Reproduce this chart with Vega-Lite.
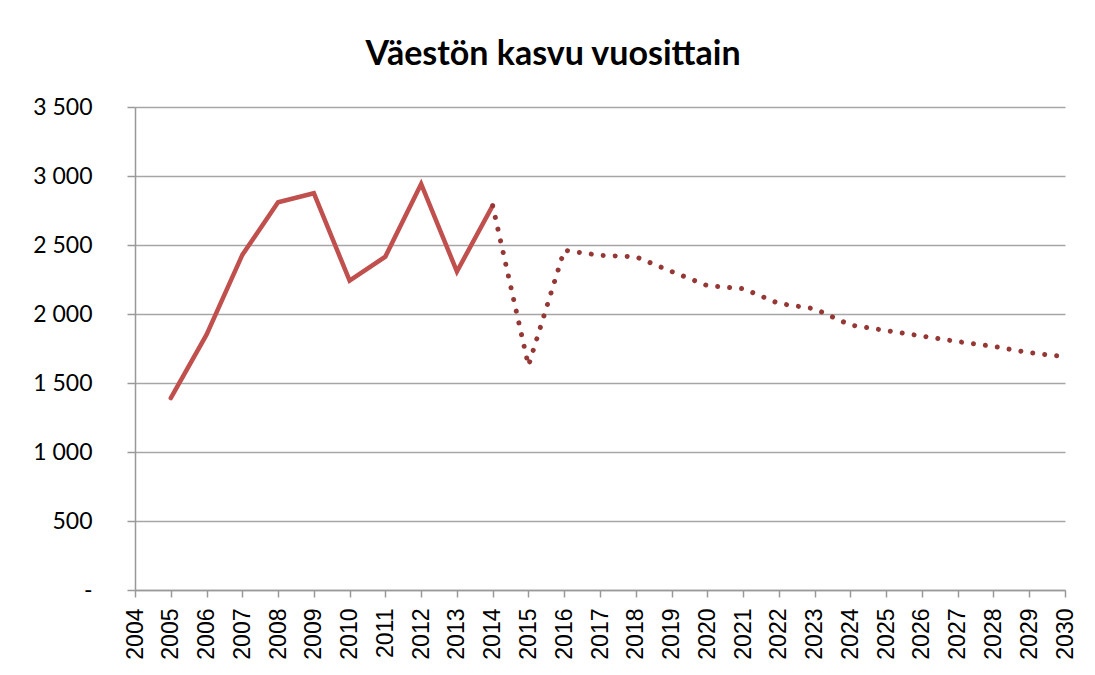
{
  "$schema": "https://vega.github.io/schema/vega-lite/v6.json",
  "autosize": {"type": "none"},
  "padding": {"left": 135, "top": 107, "right": 30, "bottom": 85},
  "width": 930,
  "height": 483,
  "background": "white",
  "title": {
    "text": "Väestön kasvu vuosittain",
    "anchor": "middle",
    "dx": -47,
    "offset": 24,
    "font": "Lato",
    "fontSize": 34,
    "fontWeight": "bold",
    "color": "#000000"
  },
  "config": {
    "view": {"stroke": null},
    "axis": {
      "domainColor": "#999999",
      "domainWidth": 1.5,
      "tickColor": "#999999",
      "tickWidth": 1.5,
      "gridColor": "#A6A6A6",
      "gridWidth": 1.5,
      "labelColor": "#000000",
      "title": null
    }
  },
  "data": {
    "values": [
      {"year": 2005, "value": 1391, "series": "toteutunut"},
      {"year": 2006, "value": 1850, "series": "toteutunut"},
      {"year": 2007, "value": 2428, "series": "toteutunut"},
      {"year": 2008, "value": 2810, "series": "toteutunut"},
      {"year": 2009, "value": 2875, "series": "toteutunut"},
      {"year": 2010, "value": 2242, "series": "toteutunut"},
      {"year": 2011, "value": 2416, "series": "toteutunut"},
      {"year": 2012, "value": 2942, "series": "toteutunut"},
      {"year": 2013, "value": 2308, "series": "toteutunut"},
      {"year": 2014, "value": 2785, "series": "toteutunut"},
      {"year": 2014, "value": 2785, "series": "ennuste"},
      {"year": 2015, "value": 1625, "series": "ennuste"},
      {"year": 2016, "value": 2462, "series": "ennuste"},
      {"year": 2017, "value": 2425, "series": "ennuste"},
      {"year": 2018, "value": 2415, "series": "ennuste"},
      {"year": 2019, "value": 2308, "series": "ennuste"},
      {"year": 2020, "value": 2206, "series": "ennuste"},
      {"year": 2021, "value": 2184, "series": "ennuste"},
      {"year": 2022, "value": 2076, "series": "ennuste"},
      {"year": 2023, "value": 2038, "series": "ennuste"},
      {"year": 2024, "value": 1920, "series": "ennuste"},
      {"year": 2025, "value": 1880, "series": "ennuste"},
      {"year": 2026, "value": 1840, "series": "ennuste"},
      {"year": 2027, "value": 1800, "series": "ennuste"},
      {"year": 2028, "value": 1765, "series": "ennuste"},
      {"year": 2029, "value": 1720, "series": "ennuste"},
      {"year": 2030, "value": 1690, "series": "ennuste"}
    ]
  },
  "encoding": {
    "x": {
      "field": "year",
      "type": "quantitative",
      "scale": {"domain": [2004, 2030], "nice": false, "zero": false},
      "axis": {
        "values": [2004, 2005, 2006, 2007, 2008, 2009, 2010, 2011, 2012, 2013, 2014, 2015, 2016, 2017, 2018, 2019, 2020, 2021, 2022, 2023, 2024, 2025, 2026, 2027, 2028, 2029, 2030],
        "format": "d",
        "grid": false,
        "labelAngle": 270,
        "labelAlign": "right",
        "labelBaseline": "middle",
        "labelFont": "Liberation Sans",
        "labelFontSize": 23,
        "labelPadding": 11,
        "tickSize": 7,
        "labelOverlap": false,
        "labelFlush": false
      }
    },
    "y": {
      "field": "value",
      "type": "quantitative",
      "scale": {"domain": [0, 3500], "nice": false},
      "axis": {
        "values": [0, 500, 1000, 1500, 2000, 2500, 3000, 3500],
        "labelExpr": "datum.value == 0 ? '-' : replace(format(datum.value, ','), ',', ' ')",
        "grid": true,
        "labelFont": "Lato",
        "labelFontSize": 23,
        "labelPadding": 35,
        "tickSize": 8,
        "labelOverlap": false,
        "labelFlush": false
      }
    }
  },
  "layer": [
    {
      "transform": [{"filter": "datum.series == 'toteutunut'"}],
      "mark": {"type": "line", "color": "#C0504D", "strokeWidth": 4.5, "strokeCap": "round", "strokeJoin": "miter"}
    },
    {
      "transform": [{"filter": "datum.series == 'ennuste'"}],
      "mark": {"type": "line", "color": "#953735", "strokeWidth": 5, "strokeCap": "round", "strokeDash": [0.01, 12]}
    }
  ]
}
